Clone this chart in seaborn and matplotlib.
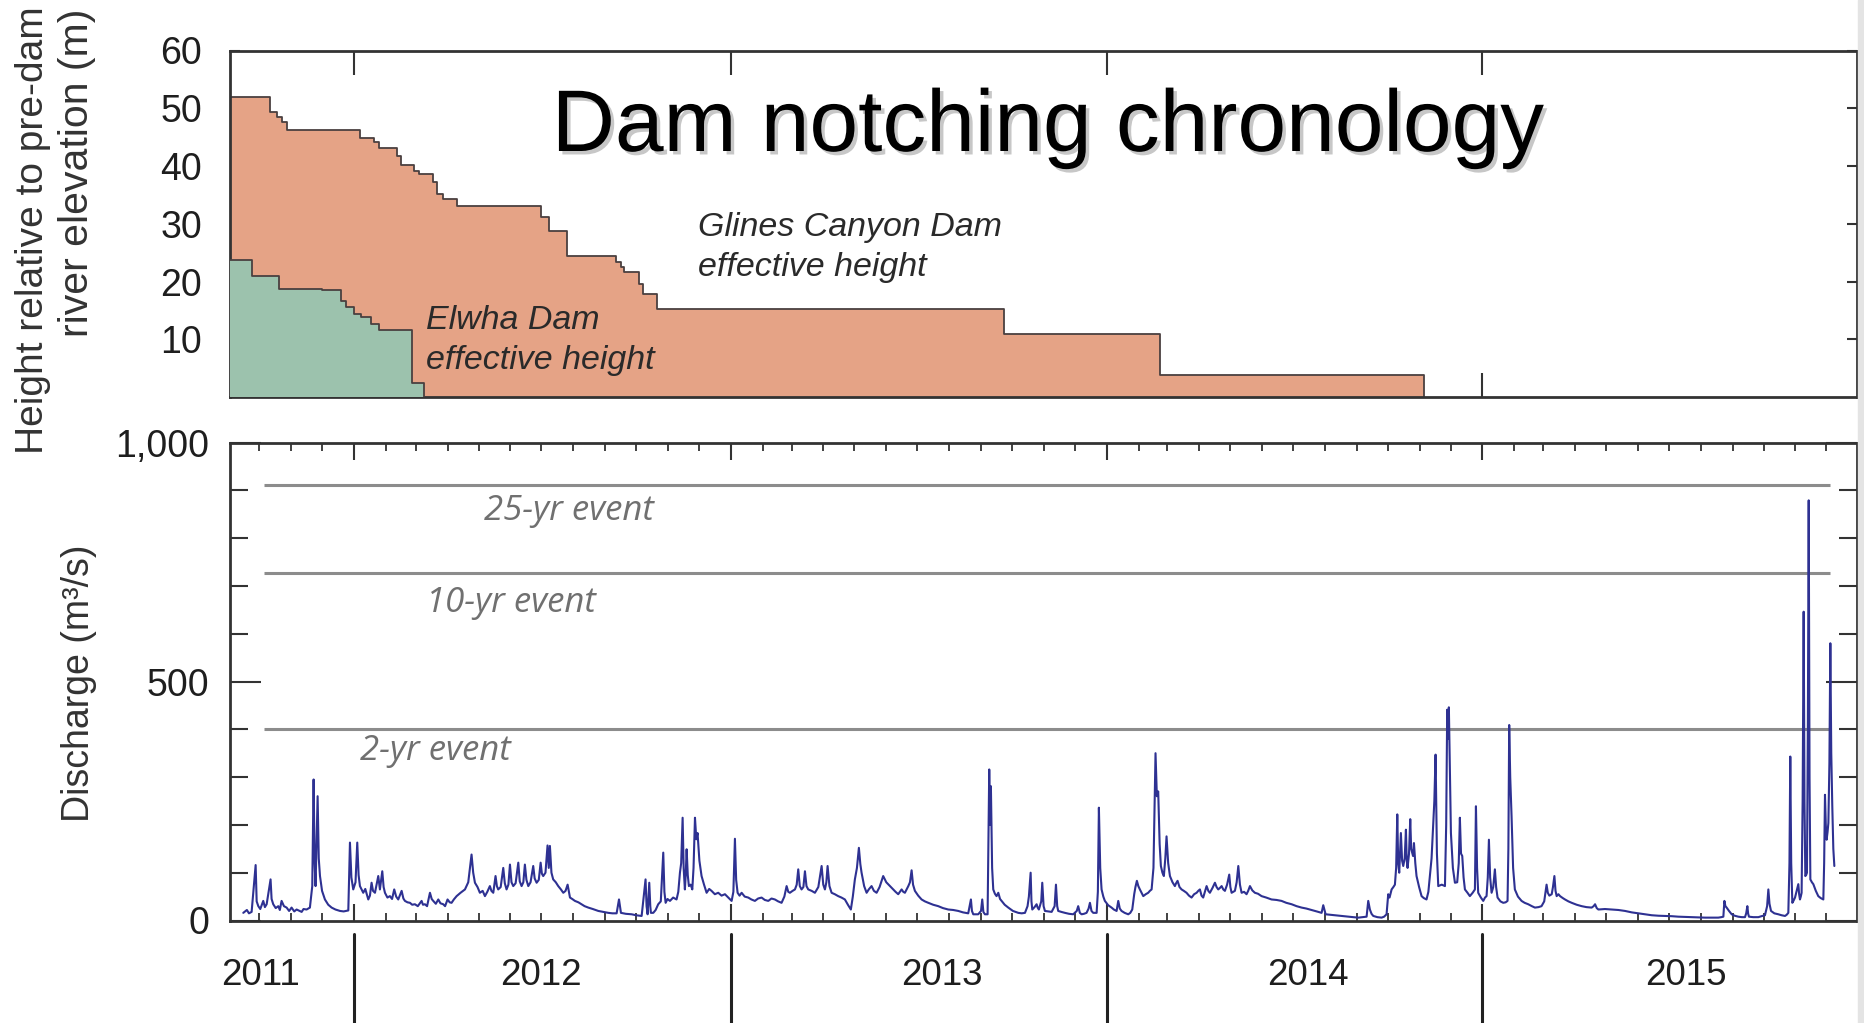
import numpy as np
import pandas as pd
import matplotlib
matplotlib.use("Agg")
import matplotlib.pyplot as plt
import matplotlib.dates as mdates
import matplotlib.ticker as mticker
import matplotlib.transforms as mtransforms
import matplotlib.patheffects as pe
from matplotlib.patches import Rectangle
import seaborn as sns

# ---------------------------------------------------------------------------
# Data (days are counted from the start of the record, 1 Sep 2011)
# ---------------------------------------------------------------------------
RECORD_START = pd.Timestamp("2011-09-01")

# Glines Canyon Dam effective height above pre-dam river bed (m)
glines_day = [0, 40.4, 47.5, 52.4, 57.2, 127.8, 141.4, 146.3, 163.4, 167.3,
              180.3, 185.1, 199.0, 202.9, 208.8, 222.4, 303.3, 311.4, 329.2,
              376.2, 381.0, 384.3, 398.8, 403.0, 416.6, 753.0, 905.0, 1161.7]
glines_height = [52.0, 49.3, 48.4, 47.6, 46.2, 44.8, 44.1, 43.2, 41.8, 40.1,
                 39.2, 38.6, 37.2, 35.2, 34.3, 33.1, 31.1, 28.8, 24.5,
                 23.3, 22.5, 21.6, 19.6, 17.9, 15.3, 10.9, 3.8, 0.0]

# Elwha Dam effective height (m)
elwha_day = [0, 23.3, 49.2, 91.3, 109.1, 113.9, 122.0, 128.5, 138.2, 146.3,
             178.7, 190.0]
elwha_height = [23.7, 21.0, 18.7, 18.5, 16.7, 15.6, 14.4, 13.8, 12.7, 11.6,
                2.4, 0.0]

# Elwha River discharge (m3/s): (day, discharge)
flow_2011 = [
    (14.5, 16), (18.0, 22), (20.0, 15), (22.6, 18), (26.5, 116), (27.5, 40),
    (29.1, 30), (31.0, 24), (33.9, 41), (35.5, 28), (37.2, 34), (41.0, 86),
    (42.0, 45), (43.6, 34), (46.0, 26), (48.5, 30), (50.0, 22), (51.7, 41),
    (54.0, 30), (56.6, 27), (59.0, 20), (61.4, 27), (64.0, 19), (66.3, 23),
    (71.2, 18), (73.0, 24), (76.0, 23), (79.2, 27), (81.5, 72), (82.8, 295),
    (83.8, 120), (84.7, 72), (86.7, 260), (87.8, 130), (89.0, 93), (91.0, 62),
    (93.8, 44), (97.0, 33), (100.3, 27), (104.0, 23), (108.4, 20),
    (112.0, 19), (116.5, 21), (118.1, 163), (119.5, 90), (121.3, 65),
]
flow_2012 = [
    (123.5, 80), (125.2, 163), (126.5, 95), (127.8, 72), (131.0, 58),
    (133.0, 66), (135.9, 44), (137.5, 52), (139.1, 79), (140.5, 62),
    (142.4, 58), (145.6, 93), (147.2, 65), (149.5, 103), (150.8, 70),
    (152.1, 58), (154.5, 48), (156.9, 51), (159.0, 45), (161.1, 65),
    (163.0, 50), (165.0, 44), (168.3, 62), (170.0, 46), (171.5, 41),
    (174.0, 38), (176.4, 37), (178.5, 33), (181.2, 34), (184.0, 30),
    (187.7, 41), (189.0, 33), (190.9, 34), (193.0, 30), (195.8, 58),
    (197.5, 45), (199.0, 41), (201.5, 35), (203.9, 44), (206.0, 36),
    (208.7, 34), (210.5, 30), (212.9, 44), (215.0, 38), (216.8, 37),
    (219.0, 44), (221.7, 51), (225.5, 58), (229.8, 65), (233.0, 80),
    (236.2, 138), (237.8, 100), (239.5, 79), (242.0, 70), (244.3, 58),
    (247.0, 62), (249.2, 51), (251.5, 60), (254.0, 72), (255.5, 62),
    (257.3, 58), (259.5, 93), (260.8, 72), (262.1, 65), (264.5, 70),
    (267.0, 110), (268.5, 78), (270.2, 65), (272.0, 75), (273.5, 117),
    (275.0, 80), (276.7, 72), (279.0, 78), (281.6, 121), (283.0, 82),
    (284.8, 72), (286.5, 80), (288.0, 117), (289.5, 85), (291.3, 72),
    (293.5, 80), (296.1, 114), (297.5, 88), (299.4, 79), (301.5, 85),
    (303.3, 121), (304.5, 98), (305.8, 93), (308.0, 100), (310.0, 157),
    (311.2, 110), (312.3, 156), (313.8, 100), (315.5, 86), (318.0, 80),
    (320.4, 72), (323.0, 65), (325.3, 58), (327.5, 62), (329.5, 75),
    (331.8, 48), (334.0, 45), (336.6, 41), (340.0, 38), (343.1, 34),
    (346.0, 30), (349.6, 27), (354.0, 24), (359.3, 20), (364.0, 18),
    (369.0, 16), (373.0, 15), (377.1, 15), (379.4, 44), (381.3, 16),
    (386.0, 14), (391.7, 13), (396.0, 11), (401.4, 9.5), (405.2, 86),
    (406.2, 30), (407.2, 13), (408.8, 79), (409.8, 30), (410.4, 16),
    (412.7, 16), (415.0, 22), (417.5, 34), (420.0, 40), (422.4, 142),
    (423.5, 60), (424.7, 37), (426.5, 45), (428.9, 41), (432.0, 48),
    (435.3, 44), (437.0, 60), (438.6, 100), (439.8, 120), (441.2, 215),
    (442.2, 110), (443.4, 65), (444.2, 95), (445.1, 149), (446.2, 95),
    (447.3, 72), (449.0, 75), (450.6, 65), (451.8, 110), (453.2, 215),
    (454.5, 170), (455.7, 183), (457.5, 125), (459.6, 93), (462.0, 75),
    (464.5, 58), (467.0, 66), (469.3, 62), (472.5, 55), (475.8, 58),
    (479.0, 52), (482.3, 55),
]
flow_2013 = [
    (485.5, 48), (488.8, 41), (490.5, 60), (492.0, 171), (493.2, 85),
    (494.6, 58), (496.5, 52), (498.5, 58), (501.5, 50), (504.9, 48),
    (508.0, 44), (511.4, 41), (514.5, 46), (517.9, 48), (521.0, 43),
    (524.4, 41), (527.5, 46), (530.8, 44), (534.0, 40), (537.3, 37),
    (540.0, 50), (542.2, 72), (543.8, 60), (545.4, 58), (548.0, 62),
    (550.3, 65), (552.0, 75), (553.5, 107), (555.0, 72), (556.7, 65),
    (558.5, 70), (560.0, 103), (561.5, 72), (563.2, 65), (566.5, 62),
    (569.7, 58), (573.0, 70), (576.2, 114), (577.8, 75), (579.4, 65),
    (580.8, 80), (582.0, 114), (583.8, 72), (585.9, 58), (589.0, 55),
    (592.3, 51), (595.5, 48), (598.8, 44), (602.0, 32), (604.6, 23),
    (606.5, 50), (608.5, 86), (610.5, 110), (612.4, 152), (613.8, 118),
    (615.0, 100), (617.5, 72), (619.9, 58), (622.0, 65), (624.7, 72),
    (627.0, 62), (629.6, 58), (632.5, 70), (636.0, 93), (639.0, 80),
    (642.6, 72), (645.8, 65), (648.0, 60), (650.6, 55), (653.9, 65),
    (655.5, 60), (657.1, 58), (660.4, 72), (662.0, 80), (663.6, 105),
    (665.0, 75), (666.8, 62), (670.0, 52), (673.3, 44), (676.5, 40),
    (679.8, 37), (684.5, 33), (689.5, 30), (694.0, 26), (699.2, 23),
    (704.0, 22), (708.9, 20), (713.5, 17), (718.6, 15), (721.2, 44),
    (722.2, 20), (723.5, 13), (728.3, 13), (731.0, 20), (732.2, 44),
    (733.3, 18), (734.8, 13), (737.4, 13), (739.0, 316), (739.8, 200),
    (740.6, 281), (741.8, 110), (742.9, 65), (744.5, 56), (746.1, 51),
    (747.8, 58), (749.5, 45), (751.0, 41), (754.0, 33), (757.5, 27),
    (762.0, 20), (767.2, 16), (770.5, 15), (773.7, 16), (776.2, 30),
    (777.5, 50), (779.2, 100), (780.0, 40), (780.8, 23), (783.0, 28),
    (785.0, 34), (786.0, 27), (787.2, 23), (789.5, 40), (790.5, 79),
    (791.8, 30), (793.1, 20), (796.5, 19), (799.6, 18), (802.5, 30),
    (803.8, 75), (805.0, 30), (806.0, 20), (809.0, 18), (812.5, 16),
    (816.5, 14), (820.6, 13), (824.0, 20), (825.4, 30), (827.0, 16),
    (828.7, 13), (831.0, 14), (833.5, 16), (835.5, 25), (836.8, 37),
    (838.3, 20), (840.0, 16), (843.3, 16), (844.5, 60), (845.5, 236),
    (846.8, 110), (848.1, 65), (849.8, 50), (851.3, 41),
]
flow_2014 = [
    (854.5, 32), (857.8, 27), (860.0, 23), (862.7, 20), (864.3, 41),
    (865.8, 25), (867.5, 20), (870.5, 16), (874.0, 13), (876.0, 16),
    (877.9, 23), (879.8, 55), (881.0, 70), (882.4, 83), (883.8, 72),
    (885.3, 65), (887.0, 58), (888.6, 51), (891.0, 55), (893.4, 58),
    (895.0, 62), (896.7, 65), (898.5, 110), (900.5, 350), (901.8, 260),
    (903.1, 270), (904.5, 160), (905.7, 114), (907.2, 100), (908.6, 93),
    (910.0, 130), (911.2, 176), (912.8, 120), (914.5, 93), (917.0, 80),
    (919.3, 72), (920.5, 78), (921.9, 83), (923.8, 70), (925.8, 65),
    (928.0, 62), (930.6, 58), (933.0, 52), (935.5, 48), (938.0, 55),
    (940.4, 58), (942.0, 62), (943.6, 65), (945.2, 52), (946.8, 48),
    (948.5, 60), (950.1, 72), (951.8, 62), (953.3, 58), (955.8, 68),
    (958.2, 79), (959.8, 70), (961.4, 65), (963.0, 68), (964.7, 72),
    (966.3, 65), (967.9, 62), (970.0, 75), (972.1, 96), (973.2, 70),
    (974.4, 58), (976.0, 60), (977.6, 62), (979.3, 80), (980.9, 114),
    (982.5, 75), (984.1, 58), (986.5, 60), (988.9, 55), (990.5, 62),
    (992.2, 72), (994.5, 63), (997.0, 58), (1000.0, 56), (1003.5, 51),
    (1008.0, 48), (1013.2, 44), (1018.0, 43), (1022.9, 41), (1027.5, 37),
    (1032.7, 34), (1037.5, 30), (1042.4, 27), (1047.0, 25), (1052.1, 22),
    (1057.0, 19), (1061.8, 16), (1063.4, 32), (1065.7, 13), (1070.0, 12),
    (1074.7, 11), (1081.0, 9.5), (1087.7, 8), (1092.5, 7), (1097.4, 6),
    (1101.5, 7), (1105.5, 8), (1107.1, 41), (1108.7, 23), (1110.3, 14),
    (1112.0, 9.5), (1116.0, 7), (1120.1, 6), (1122.5, 8), (1124.9, 13),
    (1126.5, 55), (1127.8, 48), (1129.8, 65), (1131.5, 70), (1133.0, 75),
    (1134.2, 110), (1135.3, 222), (1136.2, 120), (1137.2, 100),
    (1138.8, 183), (1140.0, 125), (1141.1, 114), (1142.5, 130),
    (1143.7, 190), (1144.5, 125), (1145.3, 110), (1146.7, 140),
    (1147.9, 212), (1148.8, 150), (1149.8, 142), (1150.6, 135),
    (1151.5, 162), (1152.8, 120), (1154.0, 93), (1156.5, 70), (1158.9, 51),
    (1161.0, 47), (1163.7, 44), (1165.5, 60), (1167.0, 93), (1168.6, 130),
    (1170.2, 204), (1171.3, 250), (1172.5, 347), (1173.8, 140),
    (1175.1, 72), (1178.5, 75), (1181.6, 72), (1182.8, 200), (1183.8, 441),
    (1184.6, 380), (1185.4, 446), (1186.4, 320), (1187.4, 183),
    (1189.3, 110), (1191.3, 79), (1193.5, 80), (1195.0, 120),
    (1196.1, 215), (1197.2, 140), (1198.4, 135), (1199.7, 90), (1201.0, 65),
    (1203.5, 58), (1205.8, 51), (1208.5, 58), (1210.7, 65), (1211.7, 239),
    (1212.8, 110), (1213.9, 58), (1216.5, 48), (1218.8, 41),
]
flow_2015 = [
    (1220.5, 48), (1222.0, 51), (1223.2, 90), (1224.3, 169), (1225.5, 90),
    (1226.9, 58), (1228.5, 70), (1230.1, 107), (1231.3, 70), (1232.7, 48),
    (1235.5, 40), (1238.2, 37), (1240.5, 38), (1242.4, 41), (1243.2, 150),
    (1244.0, 409), (1245.0, 300), (1246.3, 218), (1247.8, 110),
    (1249.5, 65), (1252.5, 50), (1256.0, 41), (1259.0, 37), (1262.5, 34),
    (1266.0, 30), (1269.0, 27), (1272.5, 28), (1275.4, 30), (1278.0, 40),
    (1280.3, 75), (1281.5, 58), (1283.0, 52), (1285.3, 55), (1286.5, 70),
    (1287.9, 93), (1289.0, 62), (1290.1, 51), (1291.8, 55), (1293.4, 51),
    (1296.0, 47), (1298.2, 44), (1301.5, 40), (1304.7, 37), (1309.5, 33),
    (1314.4, 30), (1319.0, 28), (1324.1, 27), (1326.0, 30), (1327.4, 34),
    (1329.0, 26), (1330.6, 23), (1337.0, 24), (1343.5, 23), (1350.0, 22),
    (1356.5, 20), (1363.0, 17), (1369.4, 15), (1376.0, 13), (1382.4, 11),
    (1389.0, 10), (1395.3, 9.5), (1402.0, 9), (1408.3, 8), (1415.0, 7.5),
    (1421.2, 7), (1428.0, 6.5), (1434.2, 6), (1441.0, 6), (1447.1, 6),
    (1450.0, 7), (1452.0, 8), (1453.0, 41), (1454.0, 30), (1455.2, 27),
    (1457.5, 20), (1460.1, 13), (1463.0, 10), (1466.5, 8), (1470.0, 7),
    (1473.0, 7), (1474.2, 15), (1475.3, 30), (1476.1, 14), (1476.9, 8),
    (1481.0, 7), (1486.0, 7), (1489.0, 9), (1492.4, 11), (1494.5, 30),
    (1495.7, 65), (1496.8, 35), (1498.3, 20), (1501.5, 15), (1505.4, 13),
    (1508.5, 11), (1511.9, 9.5), (1513.5, 12), (1515.1, 16), (1516.2, 120),
    (1517.0, 343), (1517.9, 120), (1519.0, 37), (1520.3, 42), (1521.6, 48),
    (1523.0, 60), (1524.8, 76), (1525.6, 55), (1526.4, 44), (1527.2, 50),
    (1528.0, 58), (1529.0, 250), (1530.0, 646), (1530.8, 250), (1531.6, 93),
    (1532.4, 95), (1533.2, 100), (1534.1, 420), (1534.9, 879), (1535.7, 300),
    (1536.5, 86), (1538.0, 80), (1539.4, 76), (1541.8, 62), (1544.2, 51),
    (1546.5, 47), (1549.1, 44), (1549.9, 120), (1550.7, 263), (1551.5, 200),
    (1552.3, 169), (1553.2, 185), (1554.0, 204), (1555.0, 330),
    (1555.9, 580), (1556.8, 350), (1557.8, 239), (1558.8, 150),
    (1559.8, 114),
]

# Flood-frequency reference discharges (m3/s)
event_labels = ["25-yr event", "10-yr event", "2-yr event"]
event_flows = [912, 728, 400]
event_span_days = [34.6, 1555.6]

# Calendar-year labels and their positions (days)
year_labels = ["2011", "2012", "2013", "2014", "2015"]
year_label_days = [31, 304, 693, 1049, 1416]
year_boundaries = ["2012-01-01", "2013-01-01", "2014-01-01", "2015-01-01"]

# Axis extent (days)
x_extent_days = [1.6, 1581.8]


def to_dates(days):
    return RECORD_START + pd.to_timedelta(np.asarray(days, dtype=float), unit="D")


# ---------------------------------------------------------------------------
# Style
# ---------------------------------------------------------------------------
sns.set_theme(style="white")
plt.rcParams["font.family"] = ["Liberation Sans", "DejaVu Sans"]
plt.rcParams["axes.edgecolor"] = "#333333"
plt.rcParams["axes.linewidth"] = 2.0

SPINE = "#333333"
TEXT = "#1e1e1e"
ORANGE = "#E5A386"
GREEN = "#9CC2AD"
OUTLINE = "#4a4040"
FLOW_BLUE = "#2E3192"
EVENT_GRAY = "#8c8c8c"

W, H = 1865, 1023
fig = plt.figure(figsize=(W / 100, H / 100), dpi=100)
fig.patch.set_facecolor("white")

ax1 = fig.add_axes([230 / W, 1 - 397 / H, 1627 / W, 346.5 / H])
ax2 = fig.add_axes([230 / W, 1 - 920.5 / H, 1627 / W, 478 / H])

xlim = to_dates(x_extent_days)
years = pd.to_datetime(year_boundaries)

# ---------------------------------------------------------------------------
# Top panel: effective dam heights
# ---------------------------------------------------------------------------
g_dates = to_dates(glines_day)
e_dates = to_dates(elwha_day)

ax1.fill_between(g_dates, glines_height, step="post", color=ORANGE, lw=0, zorder=1)
sns.lineplot(x=g_dates, y=glines_height, ax=ax1, drawstyle="steps-post",
             estimator=None, sort=False, color=OUTLINE, lw=1.3, zorder=2)
ax1.fill_between(e_dates, elwha_height, step="post", color=GREEN, lw=0, zorder=3)
sns.lineplot(x=e_dates, y=elwha_height, ax=ax1, drawstyle="steps-post",
             estimator=None, sort=False, color=OUTLINE, lw=1.3, zorder=4)

ax1.set_xlim(xlim[0], xlim[1])
ax1.set_ylim(0, 60)
ax1.set_xticks(years)
ax1.set_xticklabels([])
ax1.set_yticks([10, 20, 30, 40, 50, 60])
ax1.tick_params(axis="x", which="major", direction="in", length=17, width=1.5,
                top=True, bottom=True, labelbottom=False, color=SPINE)
ax1.tick_params(axis="y", which="major", direction="in", length=7, width=1.5,
                left=True, right=True, labelsize=27, pad=20,
                labelcolor=TEXT, color=SPINE)
ax1.set_xlabel("")
ax1.set_ylabel("")

# two-line axis title, both lines ending near the top of the figure
ax1.text(33 / W, 1 - 6 / H, "Height relative to pre-dam", transform=fig.transFigure,
         rotation=90, ha="center", va="top", fontsize=28, color="#333333")
ax1.text(77 / W, 1 - 9 / H, "river elevation (m)", transform=fig.transFigure,
         rotation=90, ha="center", va="top", fontsize=29.5, color="#333333")

ax1.text(0.2876, 0.432, "Glines Canyon Dam\neffective height",
         transform=ax1.transAxes, ha="left", va="center", fontsize=24.5,
         linespacing=1.38, style="italic", color="#2a2a2a", zorder=6)
ax1.text(0.1203, 0.162, "Elwha Dam\neffective height",
         transform=ax1.transAxes, ha="left", va="center", fontsize=24.5,
         linespacing=1.38, style="italic", color="#2a2a2a", zorder=6)

fig.text(1048 / W, 1 - 151 / H, "Dam notching chronology", ha="center",
         va="baseline", fontsize=63, color="black",
         path_effects=[pe.withSimplePatchShadow(offset=(2.5, -2.5),
                                                shadow_rgbFace="0.45",
                                                alpha=0.4)])

# ---------------------------------------------------------------------------
# Bottom panel: discharge record
# ---------------------------------------------------------------------------
flow = pd.DataFrame(flow_2011 + flow_2012 + flow_2013 + flow_2014 + flow_2015,
                    columns=["day", "cms"])
flow["date"] = to_dates(flow["day"])

span = to_dates(event_span_days)
for q in event_flows:
    ax2.hlines(q, span[0], span[1], color=EVENT_GRAY, lw=2.2, zorder=1)

xform = mtransforms.blended_transform_factory(ax2.transAxes, ax2.transData)
event_text_x = [0.1561, 0.1205, 0.0799]
event_text_y = [856, 665, 354]
for label, tx, ty in zip(event_labels, event_text_x, event_text_y):
    ax2.text(tx, ty, label, transform=xform, ha="left", va="center",
             fontsize=25, style="italic", family=["Open Sans", "DejaVu Sans"],
             color="#707070")

sns.lineplot(data=flow, x="date", y="cms", ax=ax2, estimator=None, sort=False,
             color=FLOW_BLUE, lw=1.5, zorder=3)

ax2.set_xlim(xlim[0], xlim[1])
ax2.set_ylim(0, 1000)
ax2.yaxis.set_major_locator(mticker.FixedLocator([0, 500, 1000]))
ax2.yaxis.set_major_formatter(mticker.FuncFormatter(lambda v, p: f"{int(v):,}"))
ax2.yaxis.set_minor_locator(mticker.MultipleLocator(100))
ax2.xaxis.set_major_locator(mdates.YearLocator())
ax2.xaxis.set_minor_locator(mdates.MonthLocator())
ax2.tick_params(axis="y", which="major", direction="in", length=22, width=1.5,
                left=True, right=True, labelsize=27, pad=15,
                labelcolor=TEXT, color=SPINE)
ax2.tick_params(axis="y", which="minor", direction="in", length=13, width=1.5,
                left=True, right=True, color=SPINE)
ax2.tick_params(axis="x", which="major", direction="in", length=12, width=1.5,
                top=True, bottom=True, labelbottom=False, color=SPINE)
ax2.tick_params(axis="x", which="minor", direction="in", length=6, width=1.3,
                top=True, bottom=True, color=SPINE)
ax2.set_xlabel("")
ax2.set_ylabel("")

ax2.text(-0.0931, 0.497, "Discharge (m³/s)", transform=ax2.transAxes,
         rotation=90, ha="center", va="center", fontsize=27, color="#333333")

# Year separators and labels beneath the time axis
below = mtransforms.blended_transform_factory(ax2.transData, ax2.transAxes)
for yb in years:
    xb = mdates.date2num(yb)
    ax2.plot([xb, xb], [-0.028, -0.215], transform=below, clip_on=False,
             color="#222222", lw=2.2)
for label, d in zip(year_labels, to_dates(year_label_days)):
    ax2.text(mdates.date2num(d), -0.116, label, transform=below,
             ha="center", va="center", fontsize=26.5, color=TEXT)

for ax in (ax1, ax2):
    for s in ax.spines.values():
        s.set_color(SPINE)
        s.set_linewidth(2.0)
    ax.set_facecolor("white")

# thin grey margin at the right edge
fig.patches.append(Rectangle((1858 / W, 0), 7 / W, 1, transform=fig.transFigure,
                             color="#e4e4e4", zorder=10))

fig.savefig("out.png", dpi=100)
